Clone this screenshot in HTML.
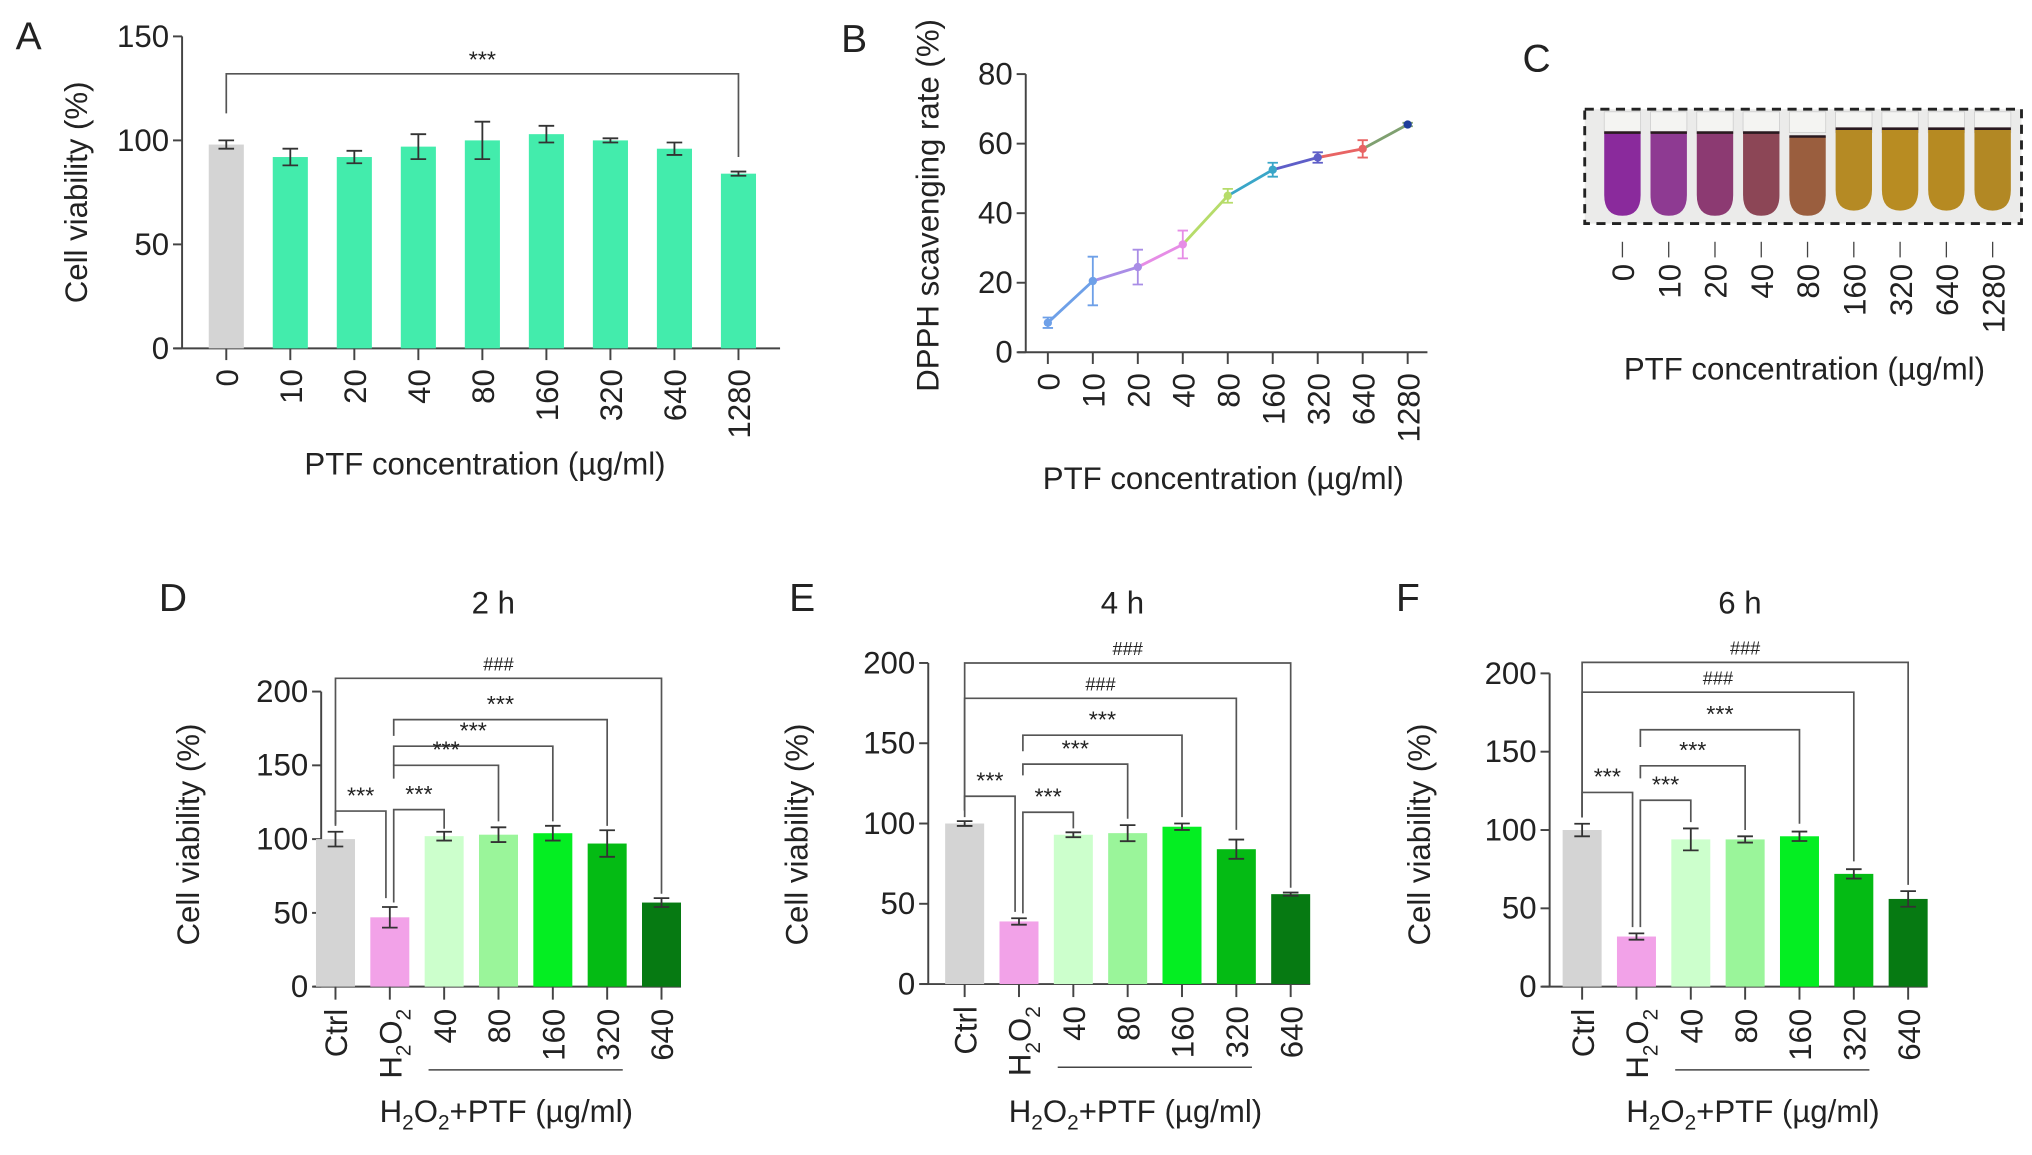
<!DOCTYPE html>
<html><head><meta charset="utf-8"><style>
html,body{margin:0;padding:0;background:#fff;}
svg{display:block;font-family:"Liberation Sans",Arial,sans-serif;}
</style></head><body>
<svg id="fig" width="2032" height="1155" viewBox="0 0 1563 888.5" xmlns="http://www.w3.org/2000/svg"></svg>
<script>
// ---------- DATA ----------
const concA = ["0","10","20","40","80","160","320","640","1280"];
const viabA = [98,92,92,97,100,103,100,96,84];
const errA = [2,4,3,6,9,4,1,3,1];
const ticksA = [0,50,100,150];

const concB = ["0","10","20","40","80","160","320","640","1280"];
const dpph = [8.5,20.5,24.5,31,45,52.5,56,58.5,65.5];
const errB = [1.5,7,5,4,2,2,1.5,2.5,0.5];
const ticksB = [0,20,40,60,80];

const concC = ["0","10","20","40","80","160","320","640","1280"];

const groups = ["Ctrl","H2O2","40","80","160","320","640"];
const ticksD = [0,50,100,150,200];
const viabD = [100,47,102,103,104,97,57];
const errD = [5,7,3,5,5,9,3];
const viabE = [100,39,93,94,98,84,56];
const errE = [1.5,2,1.5,5,2,6,1];
const viabF = [100,32,94,94,96,72,56];
const errF = [4,2,7,2,3,3,5];

const FS=24;
const svg = document.getElementById('fig');
const NS = "http://www.w3.org/2000/svg";
function mk(tag, attrs, parent){const e=document.createElementNS(NS,tag);for(const k in attrs)e.setAttribute(k,attrs[k]);(parent||svg).appendChild(e);return e;}
function txt(s,x,y,size,anchor,parent,rot){const t=mk('text',{x:x,y:y,'font-size':size,'text-anchor':anchor||'middle',fill:'#222'},parent);if(rot)t.setAttribute('transform','rotate(-90 '+x+' '+y+')');t.textContent=s;return t;}
const AX='#444';

// ---------- PANEL A ----------
{
const g=mk('g',{});


const x0=140,y0=268,yTop=28,xEnd=600;
const ys=v=>y0-(v/150)*(y0-yTop);
const xs=i=>174+i*49.25;
const lab=txt('A',22,38,30,'middle',g);
mk('line',{x1:x0,y1:yTop,x2:x0,y2:y0,stroke:AX,'stroke-width':1.5},g);
mk('line',{x1:x0-6,y1:y0,x2:xEnd,y2:y0,stroke:AX,'stroke-width':1.5},g);
ticksA.forEach(t=>{mk('line',{x1:x0-7,y1:ys(t),x2:x0,y2:ys(t),stroke:AX,'stroke-width':1.5},g);const tt=txt(String(t),x0-10,ys(t)+8,FS,'end',g);});
concA.forEach((c,i)=>{
 const b=mk('rect',{x:xs(i)-13.5,y:ys(viabA[i]),width:27,height:y0-ys(viabA[i]),fill:i==0?'#d4d4d4':'#43ecac'},g);
 
 
 const eh=ys(viabA[i]+errA[i]),el=ys(viabA[i]-errA[i]);
 mk('path',{d:`M${xs(i)},${eh}V${el}M${xs(i)-6},${eh}h12M${xs(i)-6},${el}h12`,stroke:'#333','stroke-width':1.4,fill:'none'},g);
 mk('line',{x1:xs(i),y1:y0,x2:xs(i),y2:y0+9,stroke:AX,'stroke-width':1.5},g);
 const t=txt(c,xs(i)+9,y0+16,FS,'end',g,true);
 
 
});
mk('path',{d:`M${xs(0)},${ys(113)}V${ys(132)}H${xs(8)}V${ys(92)}`,stroke:'#555','stroke-width':1.3,fill:'none'},g);
txt('***',xs(4),52,18,'middle',g);
const yt=txt('Cell viability (%)',67,148,FS,'middle',g,true);
const xt=txt('PTF concentration (µg/ml)',373,365,FS,'middle',g);
}

// ---------- PANEL B ----------
{
const g=mk('g',{});


const x0=789,y0=271,yTop=57,xEnd=1098;
const ys=v=>y0-(v/80)*(y0-yTop);
const xs=i=>806+i*34.6;
const cols=['#6ea0e8','#a98de6','#e68de6','#b6dc6a','#3aa6c8','#5e5ec8','#e86464','#7fa070','#1e3e9a'];
txt('B',657,40,30,'middle',g);
mk('line',{x1:x0,y1:yTop,x2:x0,y2:y0,stroke:AX,'stroke-width':1.5},g);
mk('line',{x1:x0-6,y1:y0,x2:xEnd,y2:y0,stroke:AX,'stroke-width':1.5},g);
ticksB.forEach(t=>{mk('line',{x1:x0-7,y1:ys(t),x2:x0,y2:ys(t),stroke:AX,'stroke-width':1.5},g);const tt=txt(String(t),x0-10,ys(t)+8,FS,'end',g);});
for(let i=0;i<dpph.length-1;i++){
 const l=mk('line',{x1:xs(i),y1:ys(dpph[i]),x2:xs(i+1),y2:ys(dpph[i+1]),stroke:cols[i],'stroke-width':2.2},g);
 
 
}
concB.forEach((c,i)=>{
 const eh=ys(dpph[i]+errB[i]),el=ys(dpph[i]-errB[i]);
 mk('path',{d:`M${xs(i)},${eh}V${el}M${xs(i)-4},${eh}h8M${xs(i)-4},${el}h8`,stroke:i==0?cols[0]:cols[i-1],'stroke-width':1.4,fill:'none'},g);
 const p=mk('circle',{cx:xs(i),cy:ys(dpph[i]),r:3.2,fill:i==0?cols[0]:(i==8?cols[8]:cols[i-1])},g);
 
 
 mk('line',{x1:xs(i),y1:y0,x2:xs(i),y2:y0+9,stroke:AX,'stroke-width':1.5},g);
 const t=txt(c,xs(i)+9,y0+16,FS,'end',g,true);
 
 
});
const yt=txt('DPPH scavenging rate (%)',722,158,FS,'middle',g,true);
const xt=txt('PTF concentration (µg/ml)',941,376,FS,'middle',g);
}

// ---------- PANEL C ----------
{
const g=mk('g',{});


txt('C',1182,55,30,'middle',g);
mk('rect',{x:1219,y:84,width:336,height:88,fill:'#ebebea'},g);
const tubeCols=['#8a2a9c','#8e3a92','#8c3a72','#8c4656','#9a5e3e','#b58a24','#b88c22','#b68a22','#b28824'];
const tubeTop=[102,102,102,102,105,99,99,99,99];
const xs=i=>1248+i*35.6;
concC.forEach((c,i)=>{
 const x=xs(i);
 mk('rect',{x:x-14,y:86,width:28,height:16,fill:'#f4f4f2',stroke:'#ccc','stroke-width':0.6},g);
 const t=mk('path',{d:`M${x-14},${tubeTop[i]}H${x+14}V${150-(i>4?4:0)}Q${x+14},${166-(i>4?4:0)} ${x},${166-(i>4?4:0)}Q${x-14},${166-(i>4?4:0)} ${x-14},${150-(i>4?4:0)}Z`,fill:tubeCols[i]},g);
 
 
 mk('line',{x1:x-14,y1:tubeTop[i],x2:x+14,y2:tubeTop[i],stroke:'#2a1a20','stroke-width':2},g);
 mk('line',{x1:x,y1:186,x2:x,y2:198,stroke:'#444','stroke-width':1},g);
 const tl=txt(c,x+9,203,FS,'end',g,true);
 
 
});
mk('rect',{x:1219,y:84,width:336,height:88,fill:'none',stroke:'#222','stroke-width':2.2,'stroke-dasharray':'7 5'},g);
const xt=txt('PTF concentration (µg/ml)',1388,292,FS,'middle',g);
}

// ---------- PANELS D/E/F ----------
const barCols=['#d4d4d4','#f2a2e8','#ccffcc','#9af59a','#04ee22','#04bb14','#067a12'];
function panel(opts,vals,errs,brackets){
 const g=mk('g',{});
 
 
 const {x0,y0,yTop,xFirst}=opts;
 const ys=v=>y0-(v/200)*(y0-yTop);
 const xs=i=>xFirst+i*41.8;
 txt(opts.id.toUpperCase(),opts.lx,470,30,'middle',g);
 const tt=txt(opts.title,xs(3)-4,472,FS,'middle',g);
 const xEnd=xs(6)+15;
 mk('line',{x1:x0,y1:yTop,x2:x0,y2:y0,stroke:AX,'stroke-width':1.5},g);
 mk('line',{x1:x0-6,y1:y0,x2:xEnd,y2:y0,stroke:AX,'stroke-width':1.5},g);
 ticksD.forEach(t=>{mk('line',{x1:x0-7,y1:ys(t),x2:x0,y2:ys(t),stroke:AX,'stroke-width':1.5},g);const tl=txt(String(t),x0-10,ys(t)+8,FS,'end',g);});
 groups.forEach((c,i)=>{
  const b=mk('rect',{x:xs(i)-15,y:ys(vals[i]),width:30,height:y0-ys(vals[i]),fill:barCols[i]},g);
  
  
  const eh=ys(vals[i]+errs[i]),el=ys(vals[i]-errs[i]);
  mk('path',{d:`M${xs(i)},${eh}V${el}M${xs(i)-6},${eh}h12M${xs(i)-6},${el}h12`,stroke:'#333','stroke-width':1.4,fill:'none'},g);
  mk('line',{x1:xs(i),y1:y0,x2:xs(i),y2:y0+10,stroke:AX,'stroke-width':1.5},g);
  const lx=xs(i)+9,ly=y0+17;
  const t=mk('text',{x:lx,y:ly,'font-size':FS,'text-anchor':'end',fill:'#222',transform:`rotate(-90 ${lx} ${ly})`},g);
  
  
  if(c==='H2O2'){t.innerHTML='H<tspan font-size="16" dy="7">2</tspan><tspan dy="-7">O</tspan><tspan font-size="16" dy="7">2</tspan>';}
  else t.textContent=c;
 });
 mk('line',{x1:xs(2)-12,y1:y0+64,x2:xs(5)+12,y2:y0+64,stroke:'#444','stroke-width':1.2},g);
 brackets.forEach(br=>{
  const xa=xs(br.a)+(br.da||0),xb=xs(br.b)+(br.db||0);
  const p=mk('path',{d:`M${xa},${ys(br.legA)}V${ys(br.level)}H${xb}V${ys(br.legB)}`,stroke:'#555','stroke-width':1.3,fill:'none'},g);
  
  
  const s=txt(br.label,(xa+xb)/2,ys(br.level)-6,br.label==='###'?14:18,'middle',g);
  
  
 });
 const yt=txt('Cell viability (%)',opts.ytx,642,FS,'middle',g,true);
 const xt=mk('text',{x:xs(3)+6,y:863,'font-size':FS,'text-anchor':'middle',fill:'#222'},g);
 
 
 xt.innerHTML='H<tspan font-size="16" dy="6">2</tspan><tspan dy="-6">O</tspan><tspan font-size="16" dy="6">2</tspan><tspan dy="-6">+PTF (µg/ml)</tspan>';
}
panel({id:'d',title:'2 h',x0:247,y0:759,yTop:532,xFirst:258,lx:133,ytx:153},viabD,errD,[
 {a:0,b:6,level:209,legA:110,legB:63,label:'###'},
 {a:1,b:5,level:181,legA:170,legB:109,label:'***',da:3},
 {a:1,b:4,level:163,legA:150,legB:112,label:'***',da:3},
 {a:1,b:3,level:150,legA:141,legB:112,label:'***',da:3},
 {a:1,b:2,level:120,legA:57,legB:107,label:'***',da:3},
 {a:0,b:1,level:119,legA:109,legB:60,label:'***',db:-3}
]);
panel({id:'e',title:'4 h',x0:714,y0:757,yTop:510,xFirst:742,lx:617,ytx:621},viabE,errE,[
 {a:0,b:6,level:200,legA:108,legB:60,label:'###'},
 {a:0,b:5,level:178,legA:108,legB:96,label:'###'},
 {a:1,b:4,level:155,legA:145,legB:104,label:'***',da:3},
 {a:1,b:3,level:137,legA:130,legB:103,label:'***',da:3},
 {a:1,b:2,level:107,legA:44,legB:97,label:'***',da:3},
 {a:0,b:1,level:117,legA:104,legB:45,label:'***',db:-3}
]);
panel({id:'f',title:'6 h',x0:1192,y0:759,yTop:518,xFirst:1217,lx:1083,ytx:1100},viabF,errF,[
 {a:0,b:6,level:207,legA:108,legB:65,label:'###'},
 {a:0,b:5,level:188,legA:108,legB:80,label:'###'},
 {a:1,b:4,level:164,legA:153,legB:104,label:'***',da:3},
 {a:1,b:3,level:141,legA:133,legB:100,label:'***',da:3},
 {a:1,b:2,level:119,legA:38,legB:105,label:'***',da:3},
 {a:0,b:1,level:124,legA:108,legB:38,label:'***',db:-3}
]);
</script>
</body></html>
